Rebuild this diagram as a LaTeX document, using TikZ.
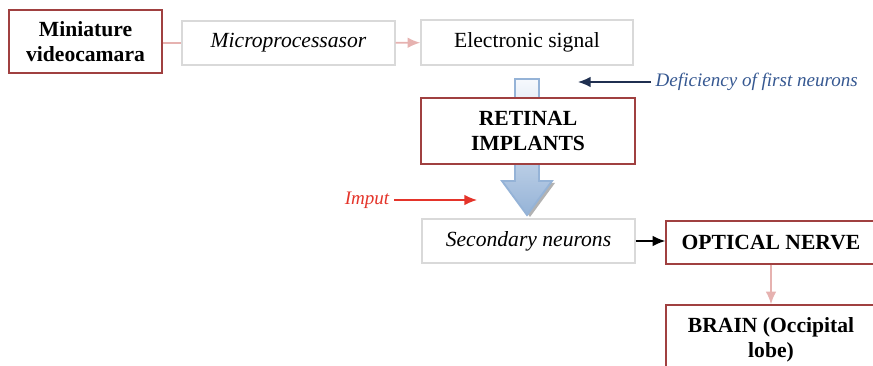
\documentclass[tikz,border=0pt]{standalone}
\usepackage{fontspec}
\setmainfont{Liberation Serif}
\usetikzlibrary{arrows.meta, positioning}

\definecolor{boxred}{RGB}{160,64,64}
\definecolor{boxgray}{RGB}{217,217,217}
\definecolor{linkpink}{RGB}{230,178,176}
\definecolor{navy}{RGB}{31,47,80}
\definecolor{steel}{RGB}{54,88,145}
\definecolor{inred}{RGB}{228,52,42}
\definecolor{arrowblue}{RGB}{149,179,215}
\definecolor{arrowpale}{RGB}{246,249,253}

\newcommand{\labelsize}{\fontsize{16.2pt}{18.5pt}\selectfont}
\newcommand{\notesize}{\fontsize{14.3pt}{17pt}\selectfont}

\tikzstyle{mainbox} = [rectangle, draw=boxred, line width=1.1pt, fill=white, align=center, font=\labelsize\bfseries]
\tikzstyle{plainbox} = [rectangle, draw=boxgray, line width=1.1pt, fill=white, align=center, font=\labelsize]
\tikzstyle{note} = [font=\notesize\itshape]
\tikzstyle{link} = [line width=1.3pt, draw=linkpink]
\tikzstyle{arrow} = [line width=1.1pt, -{Latex[length=9.5pt,width=8pt]}]

\begin{document}
\begin{tikzpicture}[x=0.75pt, y=-0.75pt]
\useasboundingbox (0,0) rectangle (873,366);

% Top row
\node (camera) [mainbox, minimum width=114.75pt, minimum height=47.25pt] at (85.5,41.5) {Miniature\\videocamara};
\node (micro) [plainbox, minimum width=159.75pt, minimum height=33pt] at (288.5,43) {\textit{Microprocessasor}};
\node (signal) [plainbox, minimum width=159pt, minimum height=33.75pt] at (527,42.5) {Electronic signal};

% Big shaded arrow going down through the implants
\fill [black!30, shift={(3,2)}] (515,181) -- (502,181) -- (527,215) -- (552,181) -- (539,181) -- cycle;
\shadedraw [top color=arrowpale, bottom color=arrowblue, draw=arrowblue, line width=1.4pt, line join=miter]
  (515,79) -- (539,79) -- (539,181) -- (552,181) -- (527,215) -- (502,181) -- (515,181) -- cycle;

\node (retinal) [mainbox, minimum width=160.5pt, minimum height=49.5pt] at (528,131) {RETINAL\\IMPLANTS};

% Side notes
\node (lack) [note, anchor=west, text=steel] at (651,82) {Deficiency of first neurons};
\coordinate (lackend) at (578,82);
\node (imput) [note, anchor=east, text=inred] at (394,200) {Imput};
\coordinate (imputend) at (477,200);

% Lower part
\node (second) [plainbox, minimum width=159.75pt, minimum height=33pt] at (528.5,241) {\textit{Secondary neurons}};
\node (optical) [mainbox, minimum width=157.5pt, minimum height=32.25pt] at (771,242.5) {OPTICAL NERVE};
\node (brain) [mainbox, minimum width=157.5pt, minimum height=52.5pt] at (771,340) {BRAIN (Occipital\\lobe)};

% Arrows
\draw [link] (camera.east |- micro) -- (micro.west);
\draw [arrow, linkpink, line width=1.3pt] (micro) -- (signal);
\draw [arrow, navy] (lack) -- (lackend);
\draw [arrow, inred] (imput) -- (imputend);
\draw [arrow] (second.east) -- (second.east -| optical.west);
\draw [arrow, linkpink, line width=1.3pt] (optical) -- (brain);

\end{tikzpicture}
\end{document}
